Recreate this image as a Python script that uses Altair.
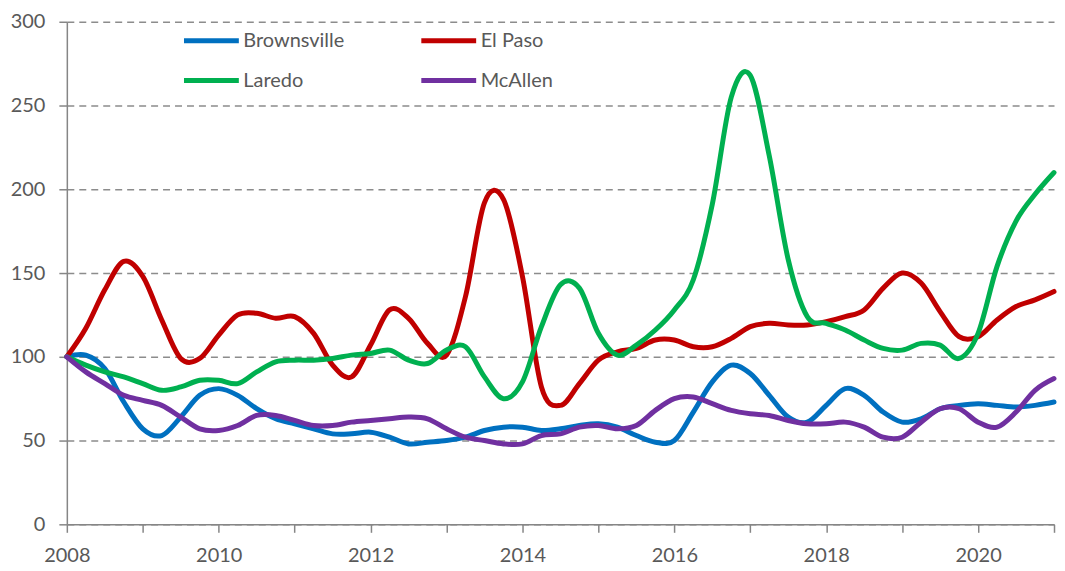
import altair as alt
import pandas as pd

# quarterly points, 2008 Q1 .. 2021 Q1
quarters = [2008 + i * 0.25 for i in range(53)]

brownsville = [100, 101, 93, 73, 57, 53, 64, 77, 81, 77, 69, 63, 60, 57, 54, 54,
               55, 52, 48, 49, 50, 52, 56, 58, 58, 56, 57, 59, 60, 58, 53, 49,
               50, 67, 85, 95, 90, 77, 64, 61, 71, 81, 77, 67, 61, 63, 69, 71,
               72, 71, 70, 71, 73]
el_paso = [100, 117, 140, 157, 148, 122, 99, 99, 113, 125, 126, 123, 124, 114, 95, 88,
           107, 128, 123, 108, 101, 136, 192, 194, 148, 82, 71, 84, 98, 103, 105, 110,
           110, 106, 106, 111, 118, 120, 119, 119, 121, 124, 128, 141, 150, 144, 127, 112,
           112, 122, 130, 134, 139]
laredo = [100, 95, 91, 88, 84, 80, 82, 86, 86, 84, 91, 97, 98, 98, 99, 101,
          102, 104, 98, 96, 104, 106, 88, 75, 85, 118, 143, 141, 114, 101, 107, 116,
          128, 146, 191, 255, 268, 220, 158, 124, 120, 116, 110, 105, 104, 108, 107, 99,
          114, 154, 181, 197, 210]
mcallen = [100, 91, 84, 77, 74, 71, 64, 57, 56, 59, 65, 65, 62, 59, 59, 61,
           62, 63, 64, 63, 57, 52, 50, 48, 48, 53, 54, 58, 59, 57, 59, 68,
           75, 76, 72, 68, 66, 65, 62, 60, 60, 61, 58, 52, 52, 61, 69, 69,
           61, 58, 67, 80, 87]

series_names = ["Brownsville", "El Paso", "Laredo", "McAllen"]
series_colors = ["#0070C0", "#C00000", "#00B050", "#7030A0"]
series_values = [brownsville, el_paso, laredo, mcallen]

x_ticks = list(range(2008, 2022))
y_ticks = [0, 50, 100, 150, 200, 250, 300]

rows = []
for name, vals in zip(series_names, series_values):
    for q, v in zip(quarters, vals):
        rows.append({"t": q, "v": v, "city": name})
df = pd.DataFrame(rows)

FONT = "Lato"
LABEL_COLOR = "#595959"
AXIS_COLOR = "#868686"

chart = alt.Chart(df).mark_line(
    strokeWidth=5, interpolate="cardinal", strokeCap="round", strokeJoin="round"
).encode(
    x=alt.X("t:Q", scale=alt.Scale(domain=[2008, 2021], nice=False, zero=False),
            axis=alt.Axis(values=x_ticks, title=None, grid=False,
                          labelExpr="datum.value % 2 == 0 ? format(datum.value, 'd') : ''",
                          labelFont=FONT, labelFontSize=20, labelColor=LABEL_COLOR,
                          domainColor=AXIS_COLOR, domainWidth=1.5,
                          tickColor=AXIS_COLOR, tickWidth=1.5, tickSize=8,
                          labelPadding=13, labelFlush=False)),
    y=alt.Y("v:Q", scale=alt.Scale(domain=[0, 300], nice=False),
            axis=alt.Axis(values=y_ticks, title=None, grid=True,
                          gridDash=[7, 5], gridColor="#8C8C8C", gridWidth=1.5,
                          labelFont=FONT, labelFontSize=20, labelColor=LABEL_COLOR,
                          domainColor=AXIS_COLOR, domainWidth=1.5,
                          tickColor=AXIS_COLOR, tickWidth=1.5, tickSize=8,
                          labelPadding=14)),
    color=alt.Color("city:N",
                    scale=alt.Scale(domain=series_names, range=series_colors),
                    legend=alt.Legend(title=None, orient="none", legendX=115, legendY=-11,
                                      direction="horizontal", columns=2,
                                      symbolType="stroke", symbolSize=3025,
                                      symbolStrokeWidth=5,
                                      labelFont=FONT, labelFontSize=20,
                                      labelColor=LABEL_COLOR, labelOffset=2,
                                      columnPadding=66, rowPadding=-22,
                                      labelLimit=300)),
    order=alt.Order("t:Q"),
).properties(
    width=990, height=504,
    padding={"left": 2, "top": 2, "right": 0, "bottom": 0},
).configure_view(stroke=None)

chart.save("out.html", embed_options={"renderer": "svg", "actions": False})
